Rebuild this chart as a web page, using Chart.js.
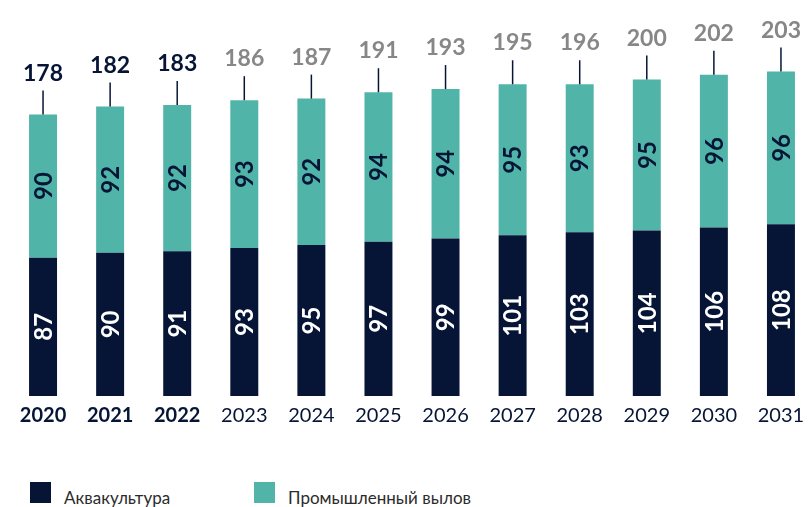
<!DOCTYPE html>
<html>
<head>
<meta charset="utf-8">
<script src="https://cdn.jsdelivr.net/npm/chart.js@4"></script>
<style>
  body { margin: 0; background: #fff; overflow: hidden; width: 810px; height: 507px; position: relative; font-family: Lato, sans-serif; }
  #wrap { position: absolute; left: 0; top: 0; width: 820px; height: 440px; }
  .leg { position: absolute; top: 482px; display: flex; align-items: center; font-size: 17px; color: #2b2b2b; }
  .leg span.box { display: inline-block; width: 21px; height: 21px; margin-right: 13px; }
  .leg span.txt { position: relative; top: 5px; }
</style>
</head>
<body>
<div id="wrap"><canvas id="chart"></canvas></div>
<div id="legend"></div>
<script>
const years = ['2020', '2021', '2022', '2023', '2024', '2025', '2026', '2027', '2028', '2029', '2030', '2031'];
const aquaculture = [87, 90, 91, 93, 95, 97, 99, 101, 103, 104, 106, 108];
const capture = [90, 92, 92, 93, 92, 94, 94, 95, 93, 95, 96, 96];
const totals = [178, 182, 183, 186, 187, 191, 193, 195, 196, 200, 202, 203];
const factYears = 3; // 2020-2022 are actual data, drawn bold

const navy = '#061536';
const teal = '#51b4a8';
const gray = '#878787';

const ctx = document.getElementById('chart').getContext('2d');

// labels inside segments, whiskers and totals above the bars
const labelsPlugin = {
    id: 'barLabels',
    afterDatasetsDraw(chart) {
        const c = chart.ctx;
        c.save();
        chart.data.datasets.forEach((ds, di) => {
            const meta = chart.getDatasetMeta(di);
            meta.data.forEach((bar, i) => {
                const midY = (bar.y + bar.base) / 2;
                c.save();
                c.translate(bar.x, midY);
                c.rotate(-Math.PI / 2);
                c.font = 'bold 24px Lato';
                c.fillStyle = di === 0 ? '#ffffff' : navy;
                c.textAlign = 'center';
                c.textBaseline = 'middle';
                c.fillText(ds.data[i], 0, 1);
                c.restore();
            });
        });
        const top = chart.getDatasetMeta(chart.data.datasets.length - 1);
        top.data.forEach((bar, i) => {
            const y0 = bar.y;
            const y1 = y0 - 24;
            c.strokeStyle = navy;
            c.lineWidth = 1.5;
            c.beginPath();
            c.moveTo(bar.x, y0);
            c.lineTo(bar.x, y1);
            c.stroke();
            c.font = 'bold 23px Lato';
            c.fillStyle = i < factYears ? navy : gray;
            c.textAlign = 'center';
            c.textBaseline = 'alphabetic';
            c.fillText(totals[i], bar.x, y1 - 10);
        });
        c.restore();
    }
};

const chart = new Chart(ctx, {
    type: 'bar',
    data: {
        labels: years,
        datasets: [{
            label: 'Аквакультура',
            data: aquaculture,
            backgroundColor: navy,
            categoryPercentage: 1,
            barPercentage: 0.417
        }, {
            label: 'Промышленный вылов',
            data: capture,
            backgroundColor: teal,
            categoryPercentage: 1,
            barPercentage: 0.417
        }]
    },
    options: {
        responsive: true,
        maintainAspectRatio: false,
        animation: false,
        layout: { padding: { left: 9.5, right: 5.5, top: 0, bottom: 4 } },
        plugins: {
            legend: { display: false },
            tooltip: { enabled: false }
        },
        scales: {
            x: {
                stacked: true,
                grid: { display: false, drawTicks: false },
                border: { display: false },
                ticks: {
                    padding: 8,
                    color: navy,
                    font: c => ({ family: 'Lato', size: 20, weight: c.index < factYears ? 'bold' : 'normal' })
                }
            },
            y: {
                stacked: true,
                display: false,
                min: 0,
                max: 249
            }
        }
    },
    plugins: [labelsPlugin]
});

// html legend from the dataset settings
const legend = document.getElementById('legend');
const legendX = [30, 254];
chart.data.datasets.forEach((ds, i) => {
    const item = document.createElement('div');
    item.className = 'leg';
    item.style.left = legendX[i] + 'px';
    item.innerHTML = `<span class="box" style="background:${ds.backgroundColor}"></span><span class="txt">${ds.label}</span>`;
    legend.appendChild(item);
});
</script>
</body>
</html>
